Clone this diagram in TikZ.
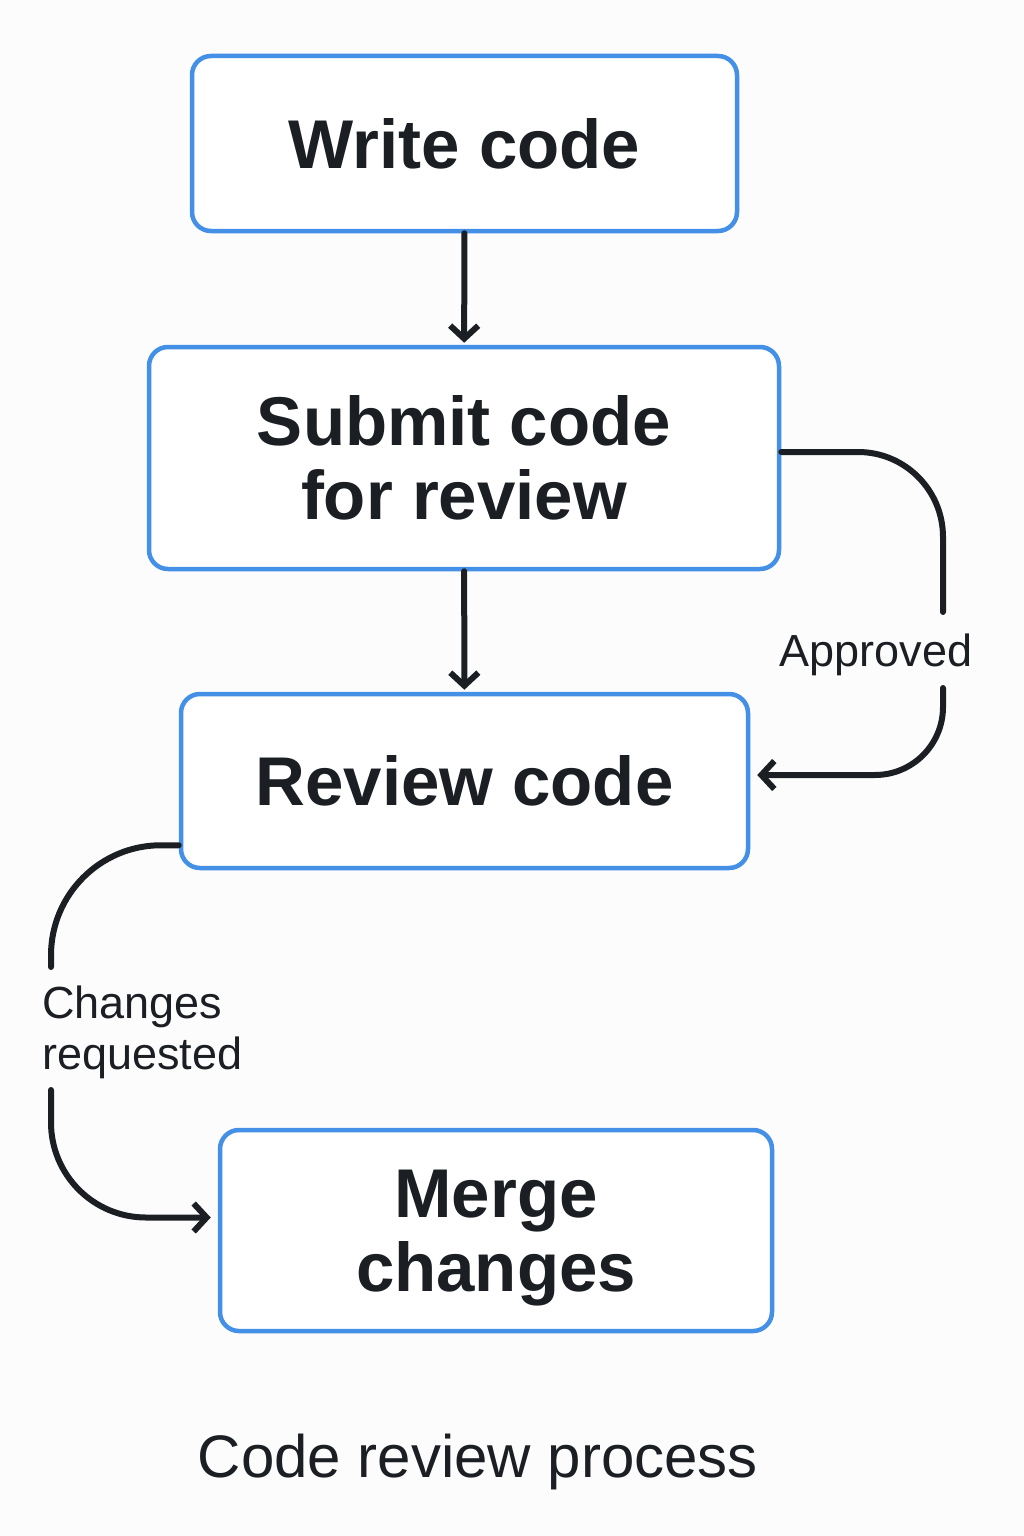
\documentclass[tikz,border=0pt]{standalone}
\usepackage{fontspec}
\setmainfont{Liberation Sans}
\usetikzlibrary{arrows.meta}
\definecolor{boxblue}{HTML}{4390E6}
\definecolor{ink}{HTML}{1B1F24}
\definecolor{paper}{HTML}{FCFCFC}

\begin{document}
\begin{tikzpicture}[x=1pt,y=-1pt,line cap=round,line join=round,
  >={Straight Barb[length=13pt,width=28pt]},
  stepbox/.style={draw=boxblue,line width=4.5pt,rounded corners=19pt,fill=white,
    text=ink,align=center,inner sep=0pt,font=\bfseries\fontsize{69}{74}\selectfont},
  flow/.style={->,draw=ink,line width=6pt},
  link/.style={draw=ink,line width=6pt},
  lbl/.style={text=ink,inner sep=0pt,font=\fontsize{45}{51}\selectfont}]
\fill[paper] (0,0) rectangle (1024,1536);
% boxes
\node[stepbox,minimum width=545pt,minimum height=175pt] (write) at (464.5,143.5) {Write code};
\node[stepbox,minimum width=630pt,minimum height=222pt] (submit) at (464,458) {Submit code\\for review};
\node[stepbox,minimum width=567pt,minimum height=174pt] (review) at (464.5,781) {Review code};
\node[stepbox,minimum width=552pt,minimum height=201pt,text depth=0pt] (merge) at (496,1230.5) {Merge\\changes};
% labels
\node[lbl] (approved) at (876,655) {Approved};
\node[lbl,align=left,anchor=west] (changes) at (42,1032) {Changes\\requested};
\node[text=ink,inner sep=0pt,font=\fontsize{60}{66}\selectfont] (title) at (478,1462) {Code review process};
% connectors
\coordinate (apTop) at (943,612);
\coordinate (apBot) at (943,688);
\coordinate (chTop) at (51,967);
\coordinate (chBot) at (51,1090);
\draw[flow,shorten >=2pt] (write) -- (submit);
\draw[flow,shorten >=2pt] (submit) -- (review);
\draw[link,rounded corners=85pt] ([yshift=6pt]submit.east) -| (apTop);
\draw[flow,rounded corners=68pt,shorten >=7pt] (apBot) |- ([yshift=6pt]review.east);
\draw[link,rounded corners=110pt] ([yshift=25pt]review.south west) -| (chTop);
\draw[flow,rounded corners=95pt,shorten >=7pt] (chBot) |- ([yshift=13pt]merge.west);
\end{tikzpicture}
\end{document}
